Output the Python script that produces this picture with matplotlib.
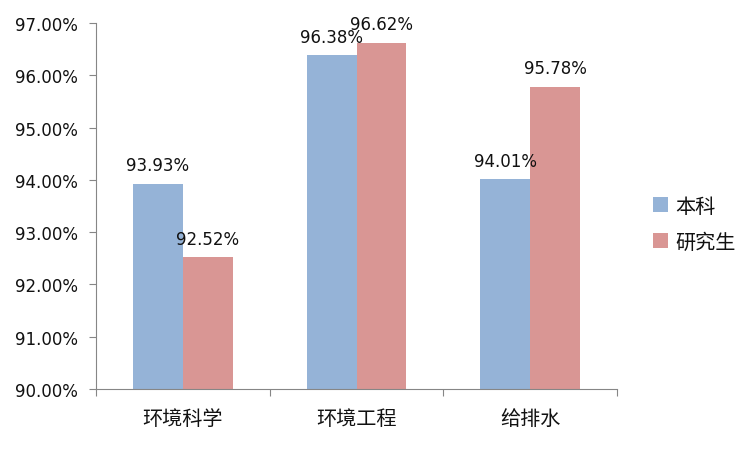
import matplotlib
matplotlib.use("Agg")
import matplotlib.pyplot as plt
import numpy as np
from matplotlib.ticker import FuncFormatter

plt.rcParams['font.family'] = ['DejaVu Sans', 'Noto Sans CJK SC']

# ------------------------------
#   Data
# ------------------------------
categories = ["环境科学", "环境工程", "给排水"]
undergrad = [93.93, 96.38, 94.01]
graduate = [92.52, 96.62, 95.78]
series_names = ["本科", "研究生"]

BLUE = "#95B3D7"
RED = "#D99694"
AXIS = "#868686"

fig = plt.figure(figsize=(7.52, 4.52), dpi=100)
ax = fig.add_axes([0.1277, 0.1372, 0.6928, 0.8097])

x = np.arange(len(categories))
w = 0.2875
b1 = ax.bar(x - w / 2, [v - 90 for v in undergrad], w, bottom=90, color=BLUE, label=series_names[0])
b2 = ax.bar(x + w / 2, [v - 90 for v in graduate], w, bottom=90, color=RED, label=series_names[1])

for bars, vals in ((b1, undergrad), (b2, graduate)):
    for rect, v in zip(bars, vals):
        ax.annotate(f"{v:.2f}%", (rect.get_x() + rect.get_width() / 2, v),
                    xytext=(0, 7), textcoords="offset points",
                    ha="center", va="bottom", fontsize=12, color="#111111")

ax.set_xlim(-0.5, 2.5)
ax.set_ylim(90, 97)
ax.set_yticks(np.arange(90, 97.5, 1))
ax.yaxis.set_major_formatter(FuncFormatter(lambda v, p: f"{v:.2f}%"))

# category boundaries get tick marks, names sit in between
ax.set_xticks([-0.5, 0.5, 1.5, 2.5], minor=False)
ax.set_xticklabels([])
ax.set_xticks(x, minor=True)
ax.set_xticklabels(categories, minor=True, fontsize=14.5, family=['Noto Sans CJK SC'])
ax.tick_params(axis="x", which="minor", length=0, pad=14, labelcolor="#111111")
ax.tick_params(axis="x", which="major", length=5, color=AXIS)
ax.tick_params(axis="y", length=5, color=AXIS, pad=8, labelsize=12, labelcolor="#111111")

for s in ("top", "right"):
    ax.spines[s].set_visible(False)
for s in ("left", "bottom"):
    ax.spines[s].set_color(AXIS)

leg = ax.legend(loc="center left", bbox_to_anchor=(1.035, 0.45), frameon=False,
                handlelength=0.75, handleheight=0.75, handletextpad=0.35,
                labelspacing=0.75, prop={"family": ['Noto Sans CJK SC'], "size": 14.5})
for t in leg.get_texts():
    t.set_color("#111111")

fig.savefig("out.png", dpi=100)
